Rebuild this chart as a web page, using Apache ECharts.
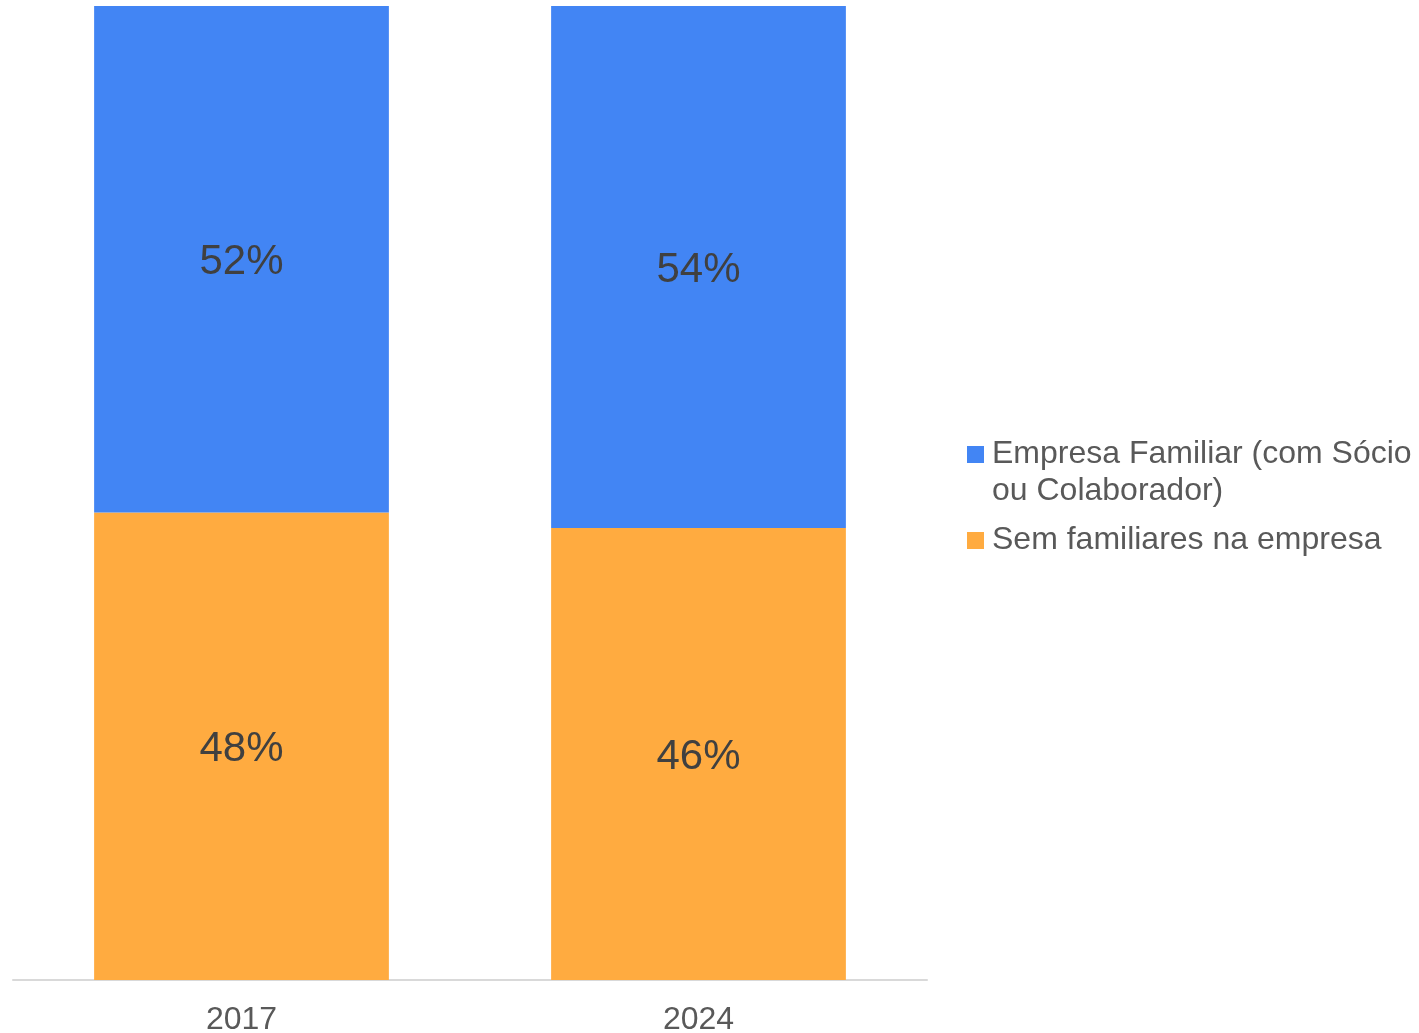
<!DOCTYPE html>
<html>
<head>
<meta charset="utf-8">
<script src="https://cdn.jsdelivr.net/npm/echarts@6/dist/echarts.min.js"></script>
<style>
  html, body { margin: 0; padding: 0; background: #fff; }
  #chart { width: 1419px; height: 1033px; }
</style>
</head>
<body>
<div id="chart"></div>
<script>
// anos e percentuais
const years = ['2017', '2024'];
const familiar = [52, 53.6];
const semFamiliares = [48, 46.4];
const nameFamiliar = 'Empresa Familiar (com Sócio ou Colaborador)';
const nameSem = 'Sem familiares na empresa';

const chart = echarts.init(document.getElementById('chart'), null, {renderer: 'canvas'});

const fontFamily = '"Liberation Sans", Arial, sans-serif';

const barLabel = {
  show: true,
  position: 'inside',
  offset: [0, 3],
  color: '#404040',
  fontSize: 42,
  fontFamily: fontFamily,
  formatter: p => Math.round(p.value) + '%'
};

chart.setOption({
  animation: false,
  grid: {left: 13, right: 492, top: 6, bottom: 53, outerBoundsMode: 'none'},
  legend: [
    {
      data: [nameFamiliar],
      left: 967,
      top: 399,
      padding: 0,
      icon: 'rect',
      itemWidth: 17,
      itemHeight: 17,
      // linha vazia no topo para alinhar o ícone com a primeira linha
      formatter: () => ' \nEmpresa Familiar (com Sócio\nou Colaborador)',
      textStyle: {
        color: '#595959',
        fontSize: 32,
        fontFamily: fontFamily,
        lineHeight: 37,
        padding: [0, 0, 0, 3]
      }
    },
    {
      data: [nameSem],
      left: 967,
      top: 522,
      padding: 0,
      icon: 'rect',
      itemWidth: 17,
      itemHeight: 17,
      textStyle: {
        color: '#595959',
        fontSize: 32,
        fontFamily: fontFamily,
        lineHeight: 37,
        padding: [0, 0, 0, 3]
      }
    }
  ],
  xAxis: {
    type: 'category',
    data: years,
    axisLine: {lineStyle: {color: '#d9d9d9', width: 2}},
    axisTick: {show: false},
    axisLabel: {color: '#595959', fontSize: 32, fontFamily: fontFamily, margin: 24}
  },
  yAxis: {
    type: 'value',
    min: 0,
    max: 100,
    show: false
  },
  series: [
    {
      name: nameSem,
      type: 'bar',
      stack: 'total',
      barWidth: '64.5%',
      data: semFamiliares,
      itemStyle: {color: '#FFAB40'},
      label: barLabel
    },
    {
      name: nameFamiliar,
      type: 'bar',
      stack: 'total',
      barWidth: '64.5%',
      data: familiar,
      itemStyle: {color: '#4285F4'},
      label: barLabel
    }
  ]
});

window.addEventListener('resize', () => chart.resize());
</script>
</body>
</html>
